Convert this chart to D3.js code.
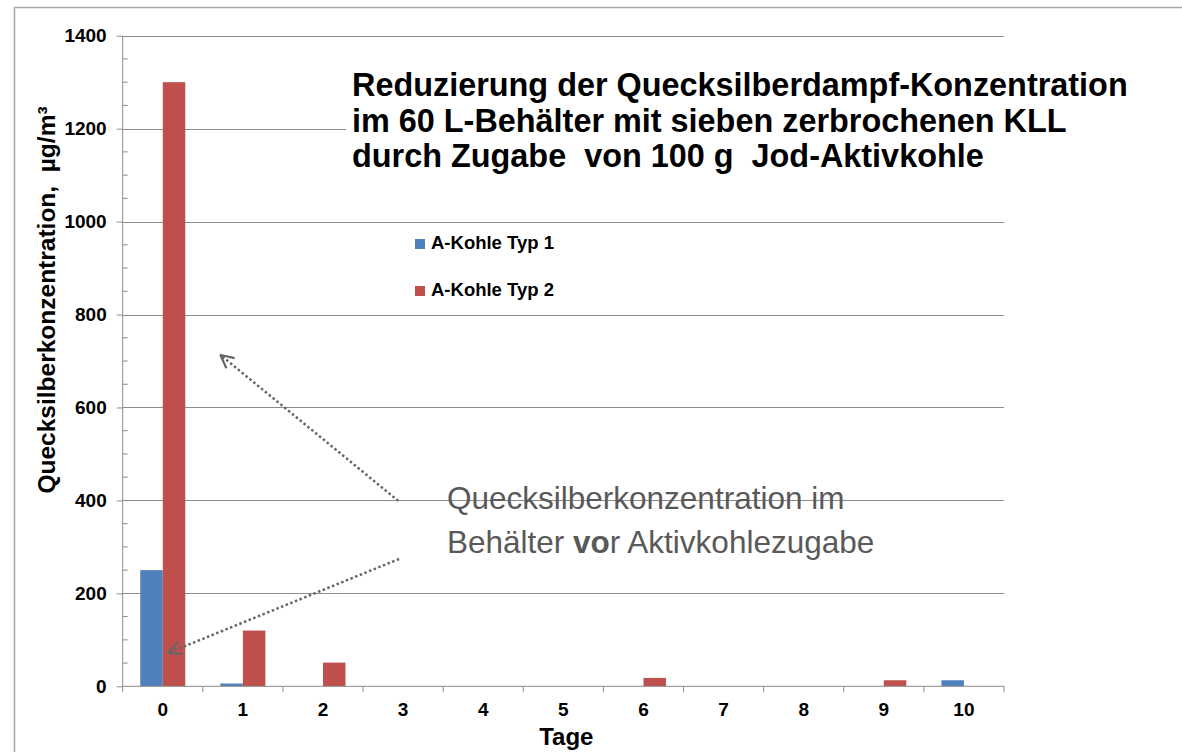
<!DOCTYPE html>
<html>
<head>
<meta charset="utf-8">
<script src="https://cdn.jsdelivr.net/npm/d3@7/dist/d3.min.js"></script>
<style>
  html, body { margin: 0; padding: 0; background: #fff; }
  svg { display: block; font-family: "Liberation Sans", Arial, sans-serif; }
</style>
</head>
<body>
<div id="chart-area"></div>
<script>
// data
const days = ["0", "1", "2", "3", "4", "5", "6", "7", "8", "9", "10"];
const seriesNames = ["A-Kohle Typ 1", "A-Kohle Typ 2"];
const typ1Values = [250, 6, 0, 0, 0, 0, 0, 0, 0, 0, 13];
const typ2Values = [1300, 120, 51, 0, 0, 0, 18, 0, 0, 13, 0];
const yTicks = [0, 200, 400, 600, 800, 1000, 1200, 1400];
const titleLines = [
    "Reduzierung der Quecksilberdampf-Konzentration",
    "im 60 L-Behälter mit sieben zerbrochenen KLL",
    "durch Zugabe  von 100 g  Jod-Aktivkohle"
];
// arrows in data units: [day, value] -> [day, value]
const arrows = [
    { from: [2.94, 399], to: [0.72, 713] },
    { from: [2.95, 274], to: [0.07, 72] }
];

const colors = ["#4F81BD", "#C0504D"];
const W = 1182, H = 752;
const plotLeft = 122.7, plotRight = 1004, plotTop = 35.7, plotBottom = 686.3;

const svg = d3.select('#chart-area')
    .append('svg')
        .attr('width', W)
        .attr('height', H);

// outer chart border (only left and top visible)
svg.append('rect')
    .attr('x', 14.5).attr('y', 7.5)
    .attr('width', 1300).attr('height', 900)
    .attr('fill', 'none')
    .attr('stroke', '#a6a6a6')
    .attr('stroke-width', 1.5);

// scales
const x0 = d3.scaleBand().domain(days).range([plotLeft, plotRight]).padding(0);
const x1 = d3.scaleBand().domain([0, 1]).range([0, x0.bandwidth()]).paddingInner(0).paddingOuter(0.78);
const xDay = d3.scaleLinear().domain([-0.5, 10.5]).range([plotLeft, plotRight]);
const y = d3.scaleLinear().domain([0, 1400]).range([plotBottom, plotTop]);

// gridlines
svg.append('g')
    .selectAll('line')
    .data(yTicks.filter(d => d > 0))
    .join('line')
        .attr('x1', plotLeft).attr('x2', plotRight)
        .attr('y1', d => Math.round(y(d)) + 0.5).attr('y2', d => Math.round(y(d)) + 0.5)
        .attr('stroke', '#8c8c8c')
        .attr('stroke-width', 1);

// y axis: major ticks outside, minor ticks inside
const yAxis = svg.append('g')
    .attr('class', 'axis-left')
    .attr('transform', 'translate(' + plotLeft + ',0)')
    .call(d3.axisLeft(y).tickValues(yTicks).tickSize(6).tickPadding(10).tickFormat(d3.format('d')));
yAxis.append('g')
    .selectAll('line')
    .data(d3.range(50, 1400, 50).filter(d => d % 200 !== 0))
    .join('line')
        .attr('x1', 0).attr('x2', 5)
        .attr('y1', d => y(d)).attr('y2', d => y(d));
yAxis.selectAll('line, path').attr('stroke', '#8c8c8c');
yAxis.select('.domain').attr('d', 'M0,' + plotTop + 'V' + plotBottom);
yAxis.selectAll('text')
    .attr('font-size', 19)
    .attr('font-weight', 'bold')
    .attr('fill', '#000');

// bars
const groups = svg.append('g')
    .selectAll('g')
    .data(days.map((d, i) => ({ day: d, values: [typ1Values[i], typ2Values[i]] })))
    .join('g')
        .attr('transform', d => 'translate(' + x0(d.day) + ',0)');
groups.selectAll('rect')
    .data(d => d.values.map((v, k) => ({ k: k, v: v })))
    .join('rect')
        .attr('x', d => x1(d.k))
        .attr('width', x1.bandwidth())
        .attr('y', d => y(d.v))
        .attr('height', d => y(0) - y(d.v))
        .attr('fill', d => colors[d.k]);

// x axis: ticks between categories
const xAxis = svg.append('g')
    .attr('class', 'axis-bottom')
    .attr('transform', 'translate(0,' + plotBottom + ')');
xAxis.append('line')
    .attr('x1', plotLeft).attr('x2', plotRight)
    .attr('stroke', '#8c8c8c');
xAxis.selectAll('.tick-mark')
    .data(d3.range(0, days.length + 1))
    .join('line')
        .attr('class', 'tick-mark')
        .attr('x1', i => plotLeft + i * x0.step()).attr('x2', i => plotLeft + i * x0.step())
        .attr('y1', 0).attr('y2', 6)
        .attr('stroke', '#8c8c8c');
xAxis.selectAll('.tick-label')
    .data(days)
    .join('text')
        .attr('class', 'tick-label')
        .attr('x', d => x0(d) + x0.bandwidth() / 2)
        .attr('y', 30)
        .attr('text-anchor', 'middle')
        .attr('font-size', 19)
        .attr('font-weight', 'bold')
        .text(d => d);

// axis labels
svg.append('text')
    .attr('x', (plotLeft + plotRight) / 2 + 3)
    .attr('y', 745)
    .attr('text-anchor', 'middle')
    .attr('font-size', 24)
    .attr('font-weight', 'bold')
    .text('Tage');

svg.append('text')
    .attr('transform', 'rotate(-90)')
    .attr('x', -300)
    .attr('y', 55)
    .attr('text-anchor', 'middle')
    .attr('font-size', 24.5)
    .attr('font-weight', 'bold')
    .style('white-space', 'pre')
    .text('Quecksilberkonzentration,  µg/m³');

// title box covers the gridline behind it
svg.append('rect')
    .attr('x', 346).attr('y', 62)
    .attr('width', 800).attr('height', 122)
    .attr('fill', '#fff');
svg.append('g')
    .selectAll('text')
    .data(titleLines)
    .join('text')
        .attr('x', 352)
        .attr('y', (d, i) => 96 + i * 35.5)
        .attr('font-size', 32.4)
        .attr('font-weight', 'bold')
        .style('white-space', 'pre')
        .text(d => d);

// legend
const legend = svg.append('g')
    .selectAll('g')
    .data(seriesNames)
    .join('g')
        .attr('transform', (d, i) => 'translate(415,' + (239 + i * 47) + ')');
legend.append('rect')
    .attr('width', 10).attr('height', 10)
    .attr('fill', (d, i) => colors[i]);
legend.append('text')
    .attr('x', 16)
    .attr('y', 10)
    .attr('font-size', 18.5)
    .attr('font-weight', 'bold')
    .text(d => d);

// annotation arrows
svg.append('defs').append('marker')
    .attr('id', 'open-arrow')
    .attr('viewBox', '0 0 16 16')
    .attr('refX', 15).attr('refY', 8)
    .attr('markerWidth', 16).attr('markerHeight', 16)
    .attr('markerUnits', 'userSpaceOnUse')
    .attr('orient', 'auto')
  .append('path')
    .attr('d', 'M2,1.5 L15,8 L2,14.5')
    .attr('fill', 'none')
    .attr('stroke', '#666')
    .attr('stroke-width', 2.2);

svg.append('g')
    .selectAll('line')
    .data(arrows)
    .join('line')
        .attr('x1', d => xDay(d.from[0])).attr('y1', d => y(d.from[1]))
        .attr('x2', d => xDay(d.to[0])).attr('y2', d => y(d.to[1]))
        .attr('stroke', '#666')
        .attr('stroke-width', 2.5)
        .attr('stroke-dasharray', '2.5,2.5')
        .attr('marker-end', 'url(#open-arrow)');

// annotation text
const note = svg.append('g')
    .attr('fill', '#595959')
    .attr('font-size', 31.5);
note.append('text')
    .attr('x', 447).attr('y', 509)
    .text('Quecksilberkonzentration im');
const line2 = note.append('text')
    .attr('x', 447).attr('y', 553);
line2.append('tspan').text('Behälter ');
line2.append('tspan').attr('font-weight', 'bold').text('vo');
line2.append('tspan').text('r Aktivkohlezugabe');
</script>
</body>
</html>
